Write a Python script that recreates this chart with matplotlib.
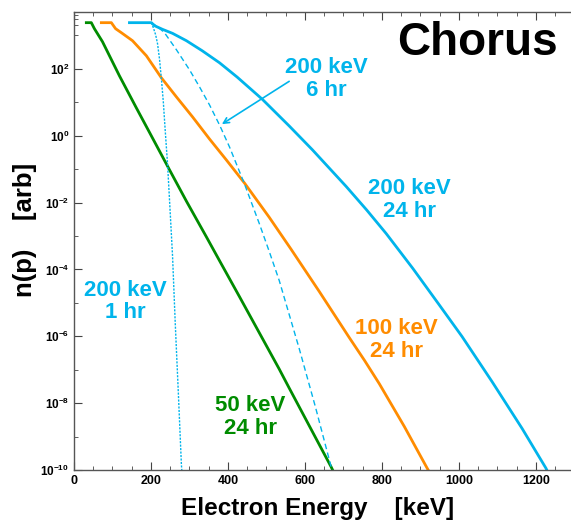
import numpy as np
import matplotlib
matplotlib.use("Agg")
import matplotlib.pyplot as plt
from matplotlib.ticker import FixedLocator, MultipleLocator, NullFormatter

plt.rcParams['font.family'] = ['Liberation Sans', 'DejaVu Sans']
plt.rcParams['font.weight'] = 'bold'
plt.rcParams['mathtext.fontset'] = 'custom'
plt.rcParams['mathtext.rm'] = 'Liberation Sans:bold'
plt.rcParams['mathtext.bf'] = 'Liberation Sans:bold'
plt.rcParams['mathtext.default'] = 'bf'

# energies in keV, densities as log10 n(p)
e_50_24 = [32, 45, 53, 74, 118, 162, 196, 248, 292, 344, 378, 430, 533, 559, 668, 673]
n_50_24 = [3.38, 3.38, 3.20, 2.81, 1.79, 0.83, 0.10, -1.02, -1.96, -3.03, -3.74, -4.82, -6.98, -7.55, -9.91, -10.03]

e_100_24 = [71, 97, 108, 123, 152, 188, 227, 266, 308, 352, 396, 443, 507, 564, 637, 715, 755, 793, 858, 917, 920]
n_100_24 = [3.38, 3.38, 3.20, 3.08, 2.84, 2.39, 1.73, 1.16, 0.56, -0.10, -0.73, -1.42, -2.44, -3.40, -4.66, -6.04, -6.73, -7.42, -8.70, -9.94, -10.0]

e_200_24 = [144, 201, 209, 230, 256, 292, 333, 378, 424, 489, 559, 619, 707, 760, 811, 880, 948, 1008, 1086, 1164, 1226, 1230]
n_200_24 = [3.38, 3.38, 3.29, 3.18, 3.06, 2.84, 2.54, 2.18, 1.75, 1.09, 0.29, -0.42, -1.52, -2.22, -2.93, -3.97, -5.05, -6.01, -7.36, -8.76, -9.95, -10.05]

e_200_6 = [201, 217, 235, 266, 300, 326, 352, 378, 404, 442, 481, 507, 533, 585, 627, 668, 671]
n_200_6 = [3.38, 3.26, 3.08, 2.57, 1.97, 1.46, 0.92, 0.32, -0.34, -1.42, -2.62, -3.46, -4.33, -6.37, -8.11, -9.91, -10.03]

e_200_1 = [201, 206, 212, 217, 222, 227, 232, 237, 243, 248, 256, 263, 271, 279, 280]
n_200_1 = [3.38, 3.23, 3.02, 2.75, 2.30, 1.70, 1.01, 0.14, -0.85, -1.90, -3.61, -5.62, -7.69, -9.85, -10.0]

cyan = '#00B4EB'
orange = '#FF8C00'
green = '#008C00'

fig = plt.figure(figsize=(5.71, 5.20), dpi=100)
ax = fig.add_axes([74 / 571, 50 / 520, 500.5 / 571, 458 / 520])

ax.plot(e_50_24, 10 ** np.array(n_50_24), color=green, lw=2.0)
ax.plot(e_100_24, 10 ** np.array(n_100_24), color=orange, lw=2.0)
ax.plot(e_200_24, 10 ** np.array(n_200_24), color=cyan, lw=2.0)
ax.plot(e_200_6, 10 ** np.array(n_200_6), color=cyan, lw=1.0, dashes=(4, 2.5))
ax.plot(e_200_1, 10 ** np.array(n_200_1), color=cyan, lw=1.0, dashes=(1.5, 1))

ax.set_yscale('log')
ax.set_xlim(0, 1300)
ax.set_ylim(1e-10, 5e3)

ax.xaxis.set_major_locator(MultipleLocator(200))
ax.xaxis.set_minor_locator(MultipleLocator(50))
ymaj = [10.0 ** k for k in range(-10, 3, 2)]
ax.yaxis.set_major_locator(FixedLocator(ymaj))
ax.set_yticklabels([r'$10^{%d}$' % k for k in range(-10, 3, 2)])
ymin = [10.0 ** k for k in range(-9, 4, 2)] + [2e3, 3e3, 4e3]
ax.yaxis.set_minor_locator(FixedLocator(ymin))
ax.yaxis.set_minor_formatter(NullFormatter())
ax.tick_params(which='both', direction='in', top=True, right=False, color='#444444')
ax.tick_params(axis='x', labelsize=9)
ax.tick_params(axis='y', labelsize=8.5)
ax.tick_params(which='major', length=6, width=0.8)
ax.tick_params(which='minor', length=3, width=0.6)
for lab in ax.get_xticklabels():
    lab.set_fontweight('bold')
for s in ax.spines.values():
    s.set_color('#555555')
    s.set_linewidth(1.0)

ax.set_xlabel('Electron Energy    [keV]', fontsize=17.5, fontweight='bold')
ax.xaxis.set_label_coords(0.4865, -0.058)
ax.set_ylabel('n(p)    [arb]', fontsize=18.5, fontweight='bold')
ax.yaxis.set_label_coords(-0.074, 0.524)

ax.text(1048, 10 ** 2.78, 'Chorus', fontsize=33, fontweight='bold', ha='center', va='center')
ax.text(655, 10 ** 1.70, '200 keV\n6 hr', color=cyan, fontsize=16, ha='center', va='center', linespacing=1.12)
ax.text(871, 10 ** -1.93, '200 keV\n24 hr', color=cyan, fontsize=16, ha='center', va='center', linespacing=1.12)
ax.text(837, 10 ** -6.10, '100 keV\n24 hr', color=orange, fontsize=16, ha='center', va='center', linespacing=1.12)
ax.text(134, 10 ** -4.96, '200 keV\n1 hr', color=cyan, fontsize=16, ha='center', va='center', linespacing=1.12)
ax.text(458, 10 ** -8.41, '50 keV\n24 hr', color=green, fontsize=16, ha='center', va='center', linespacing=1.12)

ax.annotate('', xy=(378, 10 ** 0.30), xytext=(565, 10 ** 1.67),
            arrowprops=dict(arrowstyle='->', color=cyan, lw=1.2, mutation_scale=10))

fig.savefig('out.png', dpi=100)
